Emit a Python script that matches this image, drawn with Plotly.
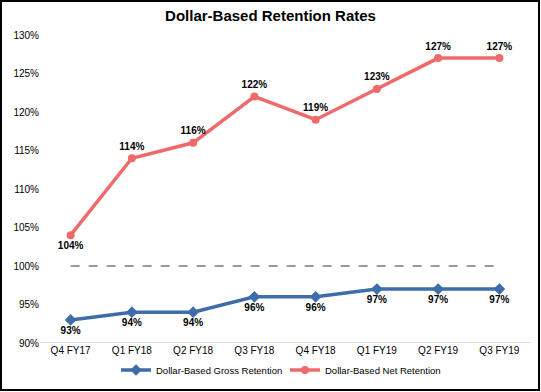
import plotly.graph_objects as go

categories = ["Q4 FY17", "Q1 FY18", "Q2 FY18", "Q3 FY18", "Q4 FY18", "Q1 FY19", "Q2 FY19", "Q3 FY19"]
gross = [93, 94, 94, 96, 96, 97, 97, 97]
net = [104, 114, 116, 122, 119, 123, 127, 127]
baseline = [100] * len(categories)
y_ticks = [90, 95, 100, 105, 110, 115, 120, 125, 130]

BLUE = "#3E6DAA"
RED = "#EF6B6B"
FONT = "Liberation Sans, Arial, sans-serif"

fig = go.Figure()
fig.add_trace(go.Scatter(
    x=categories, y=baseline, mode="lines",
    line=dict(color="#9a9a9a", width=2, dash="dash"),
    showlegend=False, hoverinfo="skip"))
fig.add_trace(go.Scatter(
    x=categories, y=gross, mode="lines+markers+text",
    name="Dollar-Based Gross Retention",
    line=dict(color=BLUE, width=3.5),
    marker=dict(symbol="diamond", size=9, color=BLUE),
    text=[f"{v}%" for v in gross], textposition="bottom center",
    textfont=dict(family=FONT, size=10, color="black", weight="bold")))
fig.add_trace(go.Scatter(
    x=categories, y=net, mode="lines+markers+text",
    name="Dollar-Based Net Retention",
    line=dict(color=RED, width=3.5),
    marker=dict(symbol="circle", size=8, color=RED),
    text=[f"{v}%" for v in net],
    textposition=["bottom center"] + ["top center"] * (len(net) - 1),
    textfont=dict(family=FONT, size=10, color="black", weight="bold")))

L, R, T, B = 40, 11, 35, 49
W, H = 541, 392
pw, ph = W - L - R, H - T - B

fig.update_layout(
    width=W, height=H,
    margin=dict(l=L, r=R, t=T, b=B, autoexpand=False),
    paper_bgcolor="white", plot_bgcolor="white",
    font=dict(family=FONT, size=10, color="black"),
    title=dict(text="<b>Dollar-Based Retention Rates</b>", x=0.5, xanchor="center",
               y=1 - 16 / H, yanchor="middle", font=dict(size=15, family=FONT)),
    xaxis=dict(range=[-0.5, len(categories) - 0.5], showgrid=False, showline=False,
               zeroline=False, ticks="", tickfont=dict(size=10), automargin=False),
    yaxis=dict(range=[90, 130], tickvals=y_ticks, ticktext=[f"{v}%" for v in y_ticks],
               showgrid=False, zeroline=False, showline=False, ticks="",
               tickfont=dict(size=10), automargin=False),
    legend=dict(orientation="h", x=0.5, xanchor="center",
                yref="container", y=1 - 370 / H, yanchor="middle",
                font=dict(size=9.5), entrywidth=124, entrywidthmode="pixels"),
    showlegend=True,
    shapes=[
        dict(type="line", xref="paper", yref="y", x0=0, x1=1, y0=90, y1=90,
             line=dict(color="#d9d9d9", width=2), layer="below"),
        dict(type="rect", xref="paper", yref="paper",
             x0=(1 - L) / pw, x1=(W - 2 - L) / pw,
             y0=-(H - 2 - T - ph) / ph, y1=(ph + T - 1) / ph,
             line=dict(color="black", width=2), fillcolor="rgba(0,0,0,0)"),
    ],
)

fig.write_html("out.html", config={"displayModeBar": False},
               post_script="document.body.style.margin='0';document.body.style.overflow='hidden';")
